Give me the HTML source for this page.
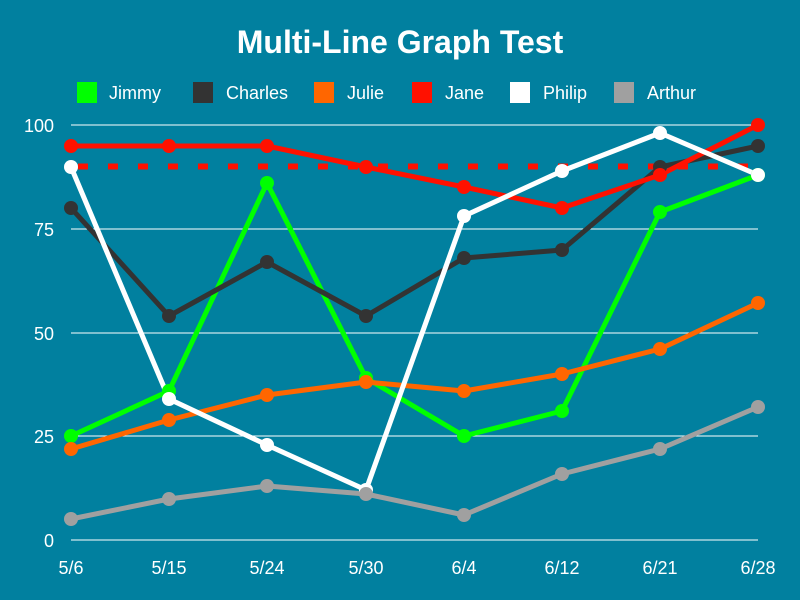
<!DOCTYPE html>
<html><head><style>body{margin:0;background:#01809f}svg{display:block}</style></head><body>
<svg width="800" height="600" xmlns="http://www.w3.org/2000/svg" font-family="Liberation Sans, sans-serif">
<rect width="800" height="600" fill="#01809f"/>
<text x="400" y="53" text-anchor="middle" font-size="32" font-weight="bold" fill="#fff">Multi-Line Graph Test</text>
<g font-size="18" fill="#fff">
<rect x="77" y="82" width="20" height="21" fill="#00ff00"/><text x="109" y="99">Jimmy</text>
<rect x="193" y="82" width="20" height="21" fill="#333"/><text x="226" y="99">Charles</text>
<rect x="314" y="82" width="20" height="21" fill="#ff6600"/><text x="347" y="99">Julie</text>
<rect x="412" y="82" width="20" height="21" fill="#ff1100"/><text x="445" y="99">Jane</text>
<rect x="510" y="82" width="20" height="21" fill="#fff"/><text x="543" y="99">Philip</text>
<rect x="614" y="82" width="20" height="21" fill="#a0a0a0"/><text x="647" y="99">Arthur</text>
</g>
<g stroke="#fff" stroke-width="1">
<line x1="71" x2="758" y1="125" y2="125"/><line x1="71" x2="758" y1="229" y2="229"/><line x1="71" x2="758" y1="333" y2="333"/><line x1="71" x2="758" y1="436" y2="436"/><line x1="71" x2="758" y1="540" y2="540"/>
</g>
<g font-size="18" fill="#fff" text-anchor="end">
<text x="54" y="132">100</text><text x="54" y="236">75</text><text x="54" y="340">50</text><text x="54" y="443">25</text><text x="54" y="547">0</text>
</g>
<g font-size="18" fill="#fff" text-anchor="middle">
<text x="71" y="574">5/6</text><text x="169" y="574">5/15</text><text x="267" y="574">5/24</text><text x="366" y="574">5/30</text><text x="464" y="574">6/4</text><text x="562" y="574">6/12</text><text x="660" y="574">6/21</text><text x="758" y="574">6/28</text>
</g>
<line x1="78" x2="758" y1="166.5" y2="166.5" stroke="#ff1100" stroke-width="6" stroke-dasharray="10,20"/>
<g fill="none" stroke-width="5" stroke-linejoin="round">
<polyline stroke="#00ff00" points="71,436 169,391 267,183 366,378 464,436 562,411 660,212 758,175"/>
<polyline stroke="#333" points="71,208 169,316 267,262 366,316 464,258 562,250 660,167 758,146"/>
<polyline stroke="#ff6600" points="71,449 169,420 267,395 366,382 464,391 562,374 660,349 758,303"/>
<polyline stroke="#ff1100" points="71,146 169,146 267,146 366,167 464,187 562,208 660,175 758,125"/>
<polyline stroke="#fff" points="71,167 169,399 267,445 366,490 464,216 562,171 660,133 758,175"/>
<polyline stroke="#a0a0a0" points="71,519 169,499 267,486 366,494 464,515 562,474 660,449 758,407"/>
</g>
<g fill="#00ff00"><circle cx="71" cy="436" r="7"/><circle cx="169" cy="391" r="7"/><circle cx="267" cy="183" r="7"/><circle cx="366" cy="378" r="7"/><circle cx="464" cy="436" r="7"/><circle cx="562" cy="411" r="7"/><circle cx="660" cy="212" r="7"/><circle cx="758" cy="175" r="7"/></g>
<g fill="#333"><circle cx="71" cy="208" r="7"/><circle cx="169" cy="316" r="7"/><circle cx="267" cy="262" r="7"/><circle cx="366" cy="316" r="7"/><circle cx="464" cy="258" r="7"/><circle cx="562" cy="250" r="7"/><circle cx="660" cy="167" r="7"/><circle cx="758" cy="146" r="7"/></g>
<g fill="#ff6600"><circle cx="71" cy="449" r="7"/><circle cx="169" cy="420" r="7"/><circle cx="267" cy="395" r="7"/><circle cx="366" cy="382" r="7"/><circle cx="464" cy="391" r="7"/><circle cx="562" cy="374" r="7"/><circle cx="660" cy="349" r="7"/><circle cx="758" cy="303" r="7"/></g>
<g fill="#ff1100"><circle cx="71" cy="146" r="7"/><circle cx="169" cy="146" r="7"/><circle cx="267" cy="146" r="7"/><circle cx="366" cy="167" r="7"/><circle cx="464" cy="187" r="7"/><circle cx="562" cy="208" r="7"/><circle cx="660" cy="175" r="7"/><circle cx="758" cy="125" r="7"/></g>
<g fill="#fff"><circle cx="71" cy="167" r="7"/><circle cx="169" cy="399" r="7"/><circle cx="267" cy="445" r="7"/><circle cx="366" cy="490" r="7"/><circle cx="464" cy="216" r="7"/><circle cx="562" cy="171" r="7"/><circle cx="660" cy="133" r="7"/><circle cx="758" cy="175" r="7"/></g>
<g fill="#a0a0a0"><circle cx="71" cy="519" r="7"/><circle cx="169" cy="499" r="7"/><circle cx="267" cy="486" r="7"/><circle cx="366" cy="494" r="7"/><circle cx="464" cy="515" r="7"/><circle cx="562" cy="474" r="7"/><circle cx="660" cy="449" r="7"/><circle cx="758" cy="407" r="7"/></g>
</svg>
</body></html>
